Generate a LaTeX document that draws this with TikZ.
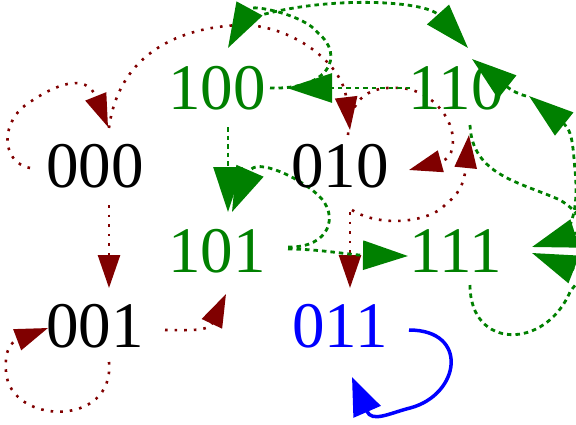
\documentclass[tikz,border=0pt]{standalone}
\usepackage{fontspec}
\setmainfont{Liberation Serif}
\usetikzlibrary{arrows.meta}
\definecolor{dred}{RGB}{128,0,0}
\definecolor{dgreen}{RGB}{0,128,0}
\definecolor{bblue}{RGB}{0,0,255}
\pgfdeclarelayer{bg}
\pgfsetlayers{bg,main}
\begin{document}
\begin{tikzpicture}[x=1pt,y=-1pt,
  lbl/.style={font=\fontsize{65}{70}\selectfont, inner sep=0pt, text height=45pt, text depth=0pt, anchor=base},
  redge/.style={draw=dred, line width=2.6pt, dash pattern=on 2.6pt off 7pt, -{Triangle[length=33pt,width=22pt]}},
  gedge/.style={draw=dgreen, line width=2.8pt, dash pattern=on 4.5pt off 4pt, -{Triangle[length=45pt,width=29pt]}},
  bedge/.style={draw=bblue, line width=3.5pt, -{Triangle[length=38pt,width=29pt]}}
]
\useasboundingbox (0,0) rectangle (576,424);
\node[lbl] (n000) at (95,187) {000};
\node[lbl, text=dgreen] (n100) at (217,109) {100};
\node[lbl] (n010) at (340,187) {010};
\node[lbl, text=dgreen] (n110) at (456,109) {110};
\node[lbl, text=dgreen] (n101) at (217,272) {101};
\node[lbl, text=dgreen] (n111) at (456,272) {111};
\node[lbl] (n001) at (95,347) {001};
\node[lbl, text=bblue] (n011) at (340,347) {011};
\begin{pgfonlayer}{bg}
% dark red transitions
\draw[redge] ([shift={(-65,-19)}]n000.base) .. controls (0,162) and (0,120) .. (30,102) .. controls (55,85) and (86,72) .. ([shift={(13,-60)}]n000.base);
\draw[redge] ([shift={(14,-59)}]n000.base) .. controls (118,60) and (170,28) .. (240,25) .. controls (290,24) and (342,62) .. ([shift={(10,-57)}]n010.base);
\draw[redge] ([shift={(14,18)}]n000.base) -- ([shift={(14,-59)}]n001.base);
\draw[redge] ([shift={(14,15)}]n001.base) .. controls (115,428) and (10,425) .. (6,372) .. controls (5,360) and (6,344) .. ([shift={(-47,-19)}]n001.base);
\draw[redge] ([shift={(70,-17)}]n001.base) .. controls (185,330) and (208,332) .. ([shift={(9,22)}]n101.base);
\draw[redge] ([shift={(10,25)}]n010.base) -- ([shift={(10,-59)}]n011.base);
\draw[redge] ([shift={(12,23)}]n010.base) .. controls (380,228) and (430,222) .. (445,205) .. controls (458,195) and (464,185) .. ([shift={(13,26)}]n110.base);
\draw[redge] ([shift={(8,-52)}]n010.base) .. controls (350,95) and (372,86) .. (400,88) .. controls (435,90) and (458,125) .. (452,148) .. controls (451,155) and (449,159) .. ([shift={(69,-17)}]n010.base);
% green transitions
\draw[gedge] ([shift={(-46,-21)}]n110.base) -- ([shift={(70,-21)}]n100.base);
\draw[gedge] ([shift={(53,-21)}]n100.base) .. controls (330,90) and (345,55) .. (318,33) .. controls (305,15) and (252,4) .. ([shift={(11,-61)}]n100.base);
\draw[gedge] ([shift={(31,-90)}]n100.base) .. controls (320,-5) and (425,0) .. ([shift={(12,-61)}]n110.base);
\draw[gedge] ([shift={(11,18)}]n100.base) -- ([shift={(11,-60)}]n101.base);
\draw[gedge] ([shift={(71,-25)}]n101.base) .. controls (330,248) and (340,215) .. (318,195) .. controls (300,178) and (256,157) .. ([shift={(15,-60)}]n101.base);
\draw[gedge] ([shift={(71,-23)}]n101.base) .. controls (320,249) and (350,255) .. ([shift={(-48,-16)}]n111.base);
\draw[gedge] ([shift={(14,16)}]n110.base) .. controls (472,175) and (520,182) .. (560,200) .. controls (580,212) and (589,229) .. ([shift={(76,-25)}]n111.base);
\draw[gedge] ([shift={(104,-32)}]n111.base) .. controls (575,225) and (578,200) .. (575,170) .. controls (573,150) and (573,131) .. ([shift={(73,-13)}]n110.base);
\draw[gedge] ([shift={(70,-13)}]n110.base) .. controls (518,94) and (511,90) .. ([shift={(16,-50)}]n110.base);
\draw[gedge] ([shift={(14,13)}]n111.base) .. controls (470,350) and (545,350) .. (570,292) .. controls (578,280) and (588,275) .. ([shift={(76,-19)}]n111.base);
% blue steady state loop
\draw[bedge] ([shift={(69,-17)}]n011.base) .. controls (470,330) and (460,395) .. (410,408) .. controls (390,413) and (372,423) .. ([shift={(12,30)}]n011.base);
\end{pgfonlayer}
\end{tikzpicture}
\end{document}
